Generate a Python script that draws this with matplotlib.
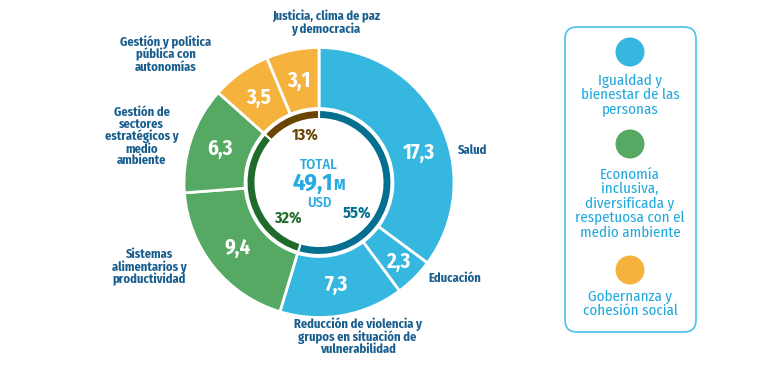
import numpy as np
import matplotlib
matplotlib.use("Agg")
import matplotlib.pyplot as plt
from matplotlib.patches import FancyBboxPatch, Circle

# ---------------- data ----------------
categories = [
    "Salud",
    "Educación",
    "Reducción de violencia y\ngrupos en situación de\nvulnerabilidad",
    "Sistemas\nalimentarios y\nproductividad",
    "Gestión de\nsectores\nestratégicos y\nmedio\nambiente",
    "Gestión y política\npública con\nautonomías",
    "Justicia, clima de paz\ny democracia",
]
values = [17.3, 2.3, 7.3, 9.4, 6.3, 3.5, 3.1]
value_labels = ["17,3", "2,3", "7,3", "9,4", "6,3", "3,5", "3,1"]
category_group = [0, 0, 0, 1, 1, 2, 2]

groups = [
    "Igualdad y\nbienestar de las\npersonas",
    "Economía\ninclusiva,\ndiversificada y\nrespetuosa con el\nmedio ambiente",
    "Gobernanza y\ncohesión social",
]
group_share_labels = ["55%", "32%", "13%"]
total_label = "49,1"
total_unit = "M"

# ---------------- style ----------------
FONT = ["Fira Sans Condensed", "Roboto Condensed", "DejaVu Sans"]
plt.rcParams["font.family"] = FONT

light_cols = ["#35b7e0", "#55a962", "#f5b23c"]
dark_cols = ["#046f8f", "#1f6b2b", "#6a4402"]
label_col = "#175d8d"
center_col = "#27a9e1"
legend_txt = "#1fa8dd"
legend_border = "#58c4ea"

W, H = 768, 366
fig = plt.figure(figsize=(W / 100, H / 100), dpi=100)
ax = fig.add_axes([0, 0, 1, 1])
ax.set_axis_off()

cx, cy = 319, 183.5
R_out, R_out_in = 135, 74
R_in, R_in_in = 72.5, 63.5

seg_colors = [light_cols[g] for g in category_group]
ax.pie(values, radius=R_out, center=(cx, cy), startangle=90, counterclock=False,
       colors=seg_colors,
       wedgeprops=dict(width=R_out - R_out_in, edgecolor="white", linewidth=2))

group_vals = [sum(v for v, g in zip(values, category_group) if g == k)
              for k in range(len(groups))]
ax.pie(group_vals, radius=R_in, center=(cx, cy), startangle=90, counterclock=False,
       colors=dark_cols,
       wedgeprops=dict(width=R_in - R_in_in, edgecolor="white", linewidth=1.5))

ax.set_xlim(0, W)
ax.set_ylim(0, H)
ax.set_aspect("equal")

# value labels inside outer ring
tot = sum(values)
cum = np.cumsum([0] + values)
angle_adjust = {0: 10}
for i, (v, lab) in enumerate(zip(values, value_labels)):
    frac = (cum[i] + v / 2) / tot
    ang = np.deg2rad(frac * 360 + angle_adjust.get(i, 0))
    r = 104 if i != 1 else 112
    x = cx + r * np.sin(ang)
    y = cy + r * np.cos(ang)
    ax.text(x, y, lab, ha="center", va="center", color="white",
            fontsize=15, fontweight="bold")

# category labels outside
cat_pos = [
    (458, 216, "left"),
    (428, 88, "left"),
    (357.5, 29.5, "center"),
    (149.5, 98.5, "center"),
    (141.5, 229.5, "center"),
    (165.5, 312, "center"),
    (326, 343, "center"),
]
for name, (x, y, ha) in zip(categories, cat_pos):
    ax.text(x, y, name, ha=ha, va="center", multialignment="center",
            color=label_col, fontsize=9, fontweight="bold", linespacing=0.95)

# group percentage labels
pct_pos = [(357, 153), (288, 148), (305, 231)]
for lab, (x, y), c in zip(group_share_labels, pct_pos, dark_cols):
    ax.text(x, y, lab, ha="center", va="center", color=c,
            fontsize=11.5, fontweight="bold")

# center text
ax.text(cx, 197, "TOTAL", ha="center", va="baseline", color=center_col,
        fontsize=10.5, fontweight="medium")
ax.text(333, 176, total_label, ha="right", va="baseline", color=center_col,
        fontsize=17.5, fontweight="bold")
ax.text(333, 176, total_unit, ha="left", va="baseline", color=center_col,
        fontsize=11.5, fontweight="bold")
ax.text(cx, 159, "USD", ha="center", va="baseline", color=center_col,
        fontsize=10.5, fontweight="medium")

# legend box
box = FancyBboxPatch((565, 34), 131, 305,
                     boxstyle="round,pad=0,rounding_size=12",
                     facecolor="white", edgecolor=legend_border, linewidth=1.3)
ax.add_patch(box)
circle_y = [314, 222, 96]
text_y = [271, 162.5, 62]
for k, g in enumerate(groups):
    ax.add_patch(Circle((630, circle_y[k]), 14.5, facecolor=light_cols[k],
                        edgecolor="none"))
    ax.text(630, text_y[k], g, ha="center", va="center", multialignment="center",
            color=legend_txt, fontsize=10.8, linespacing=1.02)

fig.savefig("out.png", dpi=100)
